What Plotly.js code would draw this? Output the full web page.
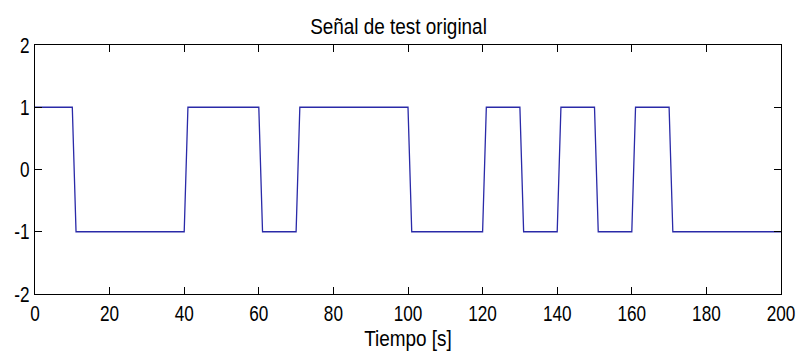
<!DOCTYPE html>
<html>
<head>
<meta charset="utf-8">
<script src="https://cdn.plot.ly/plotly-3.0.1.min.js"></script>
<style>
  html, body { margin: 0; padding: 0; background: #fff; }
  #chart { width: 797px; height: 352px; }
</style>
</head>
<body>
<div id="chart"></div>
<script>
// Test square signal: breakpoints in time (s) and the level held at each one.
// Each switch between levels takes 1 s.
const tiempo = [0, 10, 11, 40, 41, 60, 61, 70, 71, 100, 101, 120, 121, 130, 131,
                140, 141, 150, 151, 160, 161, 170, 171, 200];
const nivel  = [1, 1, -1, -1, 1, 1, -1, -1, 1, 1, -1, -1, 1, 1, -1,
                -1, 1, 1, -1, -1, 1, 1, -1, -1];

const xTickVals = [0, 20, 40, 60, 80, 100, 120, 140, 160, 180, 200];
const xTickText = ['0', '20', '40', '60', '80', '100', '120', '140', '160', '180', '200'];
const yTickVals = [-2, -1, 0, 1, 2];
const yTickText = ['-2', '-1', '0', '1', '2'];

const FONT = '"Liberation Sans", Arial, sans-serif';

const trace = {
  x: tiempo,
  y: nivel,
  type: 'scatter',
  mode: 'lines',
  line: { color: '#2a2aa8', width: 1.3 },
  hoverinfo: 'skip'
};

const axisCommon = {
  showgrid: false,
  zeroline: false,
  showline: true,
  linecolor: '#000',
  linewidth: 1,
  mirror: 'ticks',
  ticks: 'inside',
  ticklen: 7,
  tickwidth: 1,
  tickcolor: '#000',
  tickmode: 'array',
  ticklabeloverflow: 'allow',
  tickfont: { family: FONT, size: 22, color: '#000' }
};

const layout = {
  width: 797,
  height: 352,
  margin: { l: 35, r: 16, t: 45, b: 58 },
  paper_bgcolor: '#fff',
  plot_bgcolor: '#fff',
  showlegend: false,
  title: {
    text: 'Señal de test original',
    font: { family: FONT, size: 22, color: '#000' },
    x: 0.5, xanchor: 'center',
    y: 1 - 26 / 352, yref: 'container', yanchor: 'middle'
  },
  xaxis: Object.assign({}, axisCommon, {
    range: [0, 200],
    tickvals: xTickVals,
    ticktext: xTickText,
    title: { text: 'Tiempo [s]', font: { family: FONT, size: 22, color: '#000' }, standoff: 4 }
  }),
  yaxis: Object.assign({}, axisCommon, {
    range: [-2, 2],
    tickvals: yTickVals,
    ticktext: yTickText
  })
};

// Narrow the lettering horizontally (tall, condensed screen-font look).
// Centred labels are re-anchored at their right end so the narrowed text
// keeps the same centre.
function condense(selector, factor) {
  document.querySelectorAll(selector).forEach(function (el) {
    const w = el.getComputedTextLength();
    if (w <= 0) return;
    const newW = w * factor;
    el.setAttribute('textLength', newW.toFixed(2));
    el.setAttribute('lengthAdjust', 'spacingAndGlyphs');
    if (el.getAttribute('text-anchor') === 'middle' && el.closest('.xtick')) {
      const x = parseFloat(el.getAttribute('x') || '0');
      el.setAttribute('text-anchor', 'end');
      el.setAttribute('x', (x + newW / 2).toFixed(2));
    }
  });
}

Plotly.newPlot('chart', [trace], layout, { displayModeBar: false, staticPlot: true })
  .then(function () {
    condense('#chart .xtick text, #chart .ytick text', 0.78);
    condense('#chart .gtitle, #chart .g-xtitle text', 0.86);
  });
</script>
</body>
</html>
